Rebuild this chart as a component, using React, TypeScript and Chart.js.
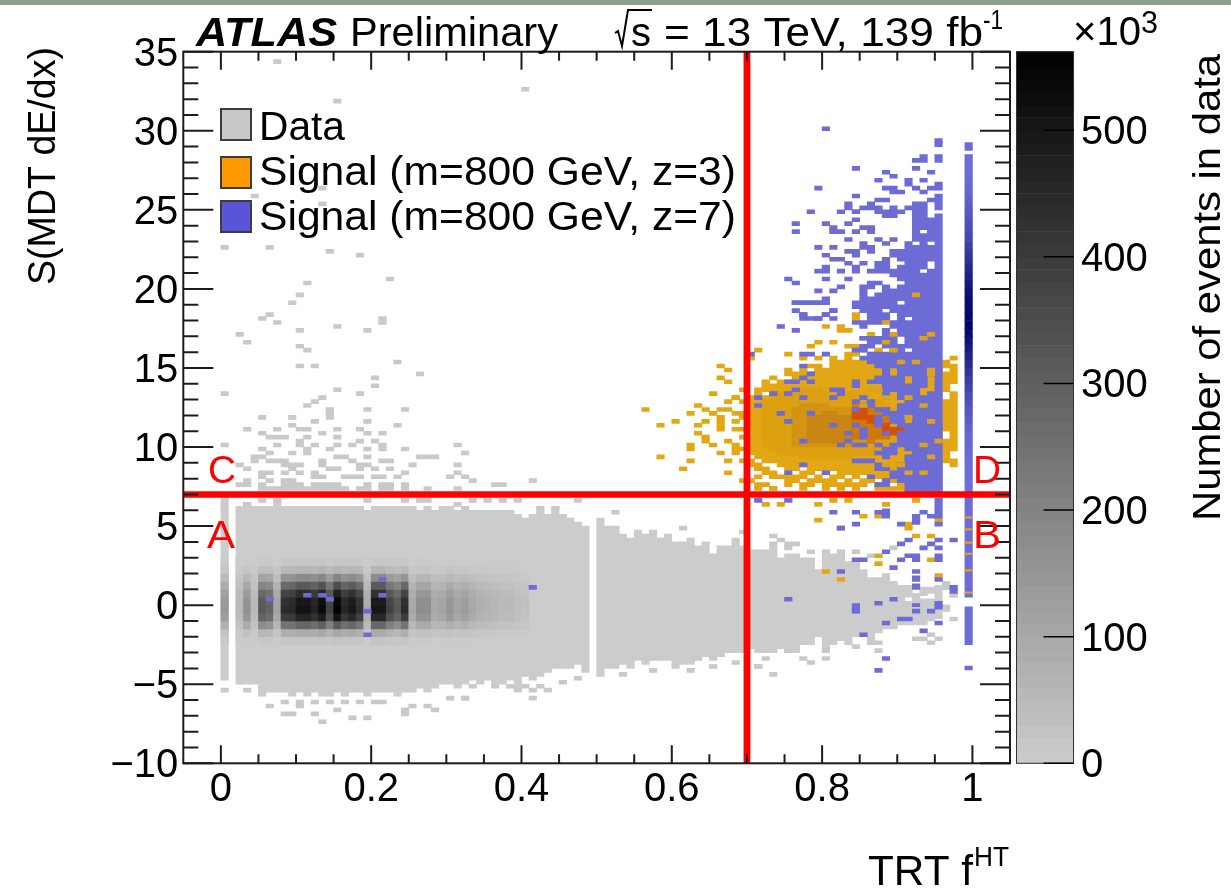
import React, { useEffect, useRef } from "react";
import { Chart, registerables } from "chart.js";
Chart.register(...registerables);

const WIDTH = 1231;
const HEIGHT = 889;
const BIN_X = 0.01;
const BIN_Y = 0.25;

const xLabelsEvery = 20; // hundredths
const legendLabels = ["Data", "Signal (m=800 GeV, z=3)", "Signal (m=800 GeV, z=7)"];
const regionLabels = ["A", "B", "C", "D"];
const colorbarEdges = [0,10,20,30,40,50,60,70,80,90,100,110,120,130,140,150,160,170,180,190,200,210,220,230,240,250,260,270,280,290,300,310,320,330,340,350,360,370,380,390,400,410,420,430,440,450,460,470,480,490,500,510,520,530,540,550,562];

// Data band: lower / upper edge of the filled region for each TRT bin 0.00 ... 0.90
const dataBandLo = [
  -4.75,null,-5,-5,-5,-5.75,-5.5,-5.5,-5.5,-5.75,
  -5.5,-5.75,-5.5,-5.75,-5.75,-5.5,-5.75,-5.5,-5.5,-5.75,
  -5.5,-5.5,-5.5,-5.75,-5.5,-5.5,-5.25,-5.5,-5.25,-5,
  -5,-5.25,-5,-4.75,-5,-4.75,-5,-5,-4.75,-5.25,
  -4.5,-4.75,-4.5,-4.25,-4,-4,-4,-3.75,-4.25,null,
  -4.5,-4,-4,-3.75,-4,-3.5,-3.75,-3.5,-3.5,-3.5,
  -3.75,-3.75,-3.75,-3.5,-3.25,-3.25,-3.25,-3,-3,-3,
  -2.75,-3,-3,-3,-2.75,-3,-3,-2.5,-2.5,-2,
  -2.75,-2.5,-2.25,-2.5,-2,-2,-2.25,-1.75,-1.5,-1.5,-1.25,
];
const dataBandHi = [
  7,null,6.25,6.5,6.25,6.25,6.25,6.5,6.25,6.25,
  6.25,6.25,6.25,6.25,6.25,6.25,6.25,6.25,6.25,6,
  6.25,6.25,6.25,6.25,6.25,6.25,6,6.25,6,6.25,
  6.25,6,6,6,6,6,6,6,6,5.75,
  5.5,5.75,6,5.75,6.25,5.75,5.5,5.25,5,null,
  5.5,5,5,4.5,4.25,4.75,4.5,4.75,4.25,4.5,
  4,4,4.25,3.75,4,3.25,3.75,3.75,4.25,3.75,
  3.5,3.5,3.5,3.75,3,3.25,3.25,3,3,2.25,
  3.25,3.25,3.25,2.75,2.75,2.25,1.75,1.75,2,1.5,1.25,
];
const dataTailSegments = [
  [.91,-1.25,.25],[.91,.5,1.25],[.92,-1.25,.75],[.93,-1.25,.4],[.93,.6,1.15],
  [.94,-1,.4],[.94,.75,1.15],[.95,-.85,1.25],[.96,-.4,0],[.96,1,1.5],[.97,.5,.75],
];

// Events (x10^3) in the dense core; one row per 0.5 of S, one column per TRT bin 0.00 ... 0.40
const coreRowStart = [-2.5,-2,-1.5,-1,-.5,0,.5,1,1.5,2,2.5];
const coreRows = [
  [6,0,2,6,2,13,12,4,18,18,20,20,19,22,15,22,18,20,17,4,20,20,15,13,18,4,7,7,4,4,6,4,5,4,3,3,2,2,2,2,1],
  [25,0,9,29,9,58,52,20,79,81,92,92,85,97,68,101,83,90,77,16,90,90,68,58,79,18,31,31,18,20,27,20,23,18,14,13,11,9,9,7,5],
  [77,0,28,88,28,176,160,61,242,248,281,281,259,297,209,308,253,275,237,50,275,275,209,176,242,55,94,94,55,61,83,61,72,55,44,39,33,28,28,22,17],
  [126,0,45,144,45,288,261,99,396,405,459,459,423,486,342,504,414,450,387,81,450,450,342,288,396,90,153,153,90,99,135,99,117,90,72,63,54,45,45,36,27],
  [140,0,50,160,50,320,290,110,440,450,510,510,470,540,380,560,460,500,430,90,500,500,380,320,440,100,170,170,100,110,150,110,130,100,80,70,60,50,50,40,30],
  [136,0,49,155,49,310,281,107,427,437,495,495,456,524,369,543,446,485,417,87,485,485,369,310,427,97,165,165,97,107,146,107,126,97,78,68,58,49,49,39,29],
  [119,0,43,136,43,272,247,94,374,383,434,434,400,459,323,476,391,425,366,77,425,425,323,272,374,85,145,145,85,94,128,94,111,85,68,60,51,43,43,34,26],
  [87,0,31,99,31,198,180,68,273,279,316,316,291,335,236,347,285,310,267,56,310,310,236,198,273,62,105,105,62,68,93,68,81,62,50,43,37,31,31,25,19],
  [49,0,18,56,18,112,102,39,154,158,179,179,165,189,133,196,161,175,151,32,175,175,133,112,154,35,60,60,35,39,53,39,46,35,28,25,21,18,18,14,11],
  [17,0,6,19,6,38,35,13,53,54,61,61,56,65,46,67,55,60,52,11,60,60,46,38,53,12,20,20,12,13,18,13,16,12,10,8,7,6,6,5,4],
  [4,0,2,5,2,10,9,3,13,14,15,15,14,16,11,17,14,15,13,3,15,15,11,10,13,3,5,5,3,3,5,3,4,3,2,2,2,2,2,1,1],
];

// Isolated data cells [TRT, S]
const dataCells = [
  [.075,34.3],[.405,32.6],[.154,31.8],[.135,26.3],[.045,25.8],[.135,25.4],[.005,22.5],[.065,22.7],[.145,22.3],[.185,22.2],
  [.115,20.3],[.225,20.6],[.105,19.5],[.095,19.2],[.064,18.45],[.055,18.2],[.075,17.9],[.215,18.1],[.215,17.9],[.155,17.65],[.195,17.4],[.105,17.3],
  [.025,17],[.035,16.6],[.105,16.3],[.115,16.05],[.105,15.1],[.125,15.1],[.235,15.4],[.265,14.6],[.205,14.3],[.205,13.8],[.155,13.5],[.185,13.4],[.005,13.4],
  [.135,13.1],[.125,12.9],[.115,12.6],[.145,12.35],[.195,12.35],[.245,12.35],[.055,11.9],[.095,11.8],[.145,11.85],[.145,12.05],[.195,11.65],[.125,11.55],[.095,11.25],[.235,11.25],
  [.035,11],[.075,11],[.105,11],[.115,11],[.155,11],[.185,11],[.195,10.9],[.215,10.9],[.055,10.75],[.065,10.6],[.075,10.6],[.085,10.6],[.135,10.75],[.155,10.6],[.115,10.5],[.105,10.35],[.185,10.45],[.205,10.35],
  [.005,10.2],[.075,10.2],[.105,10.1],[.125,10.05],[.115,9.9],[.155,10.05],[.175,10.05],[.215,10.1],[.215,9.85],[.245,9.9],[.315,10.05],[.055,9.9],[.145,9.8],[.195,9.8],[.115,9.6],[.065,9.65],[.095,9.6],[.325,9.55],[.265,9.4],[.275,9.45],[.285,9.45],
  [.045,9.4],[.055,9.4],[.025,8.85],[.035,8.6],[.045,9.1],[.065,9.1],[.075,9.1],[.085,9.1],[.095,8.9],[.105,8.85],[.135,9.2],[.135,8.95],[.155,9.4],[.165,9.4],[.175,9.1],[.185,8.85],[.195,8.85],[.195,9.3],[.215,9],[.225,9],[.205,8.6],[.225,8.6],[.255,8.75],[.315,8.85],
  [.055,8.25],[.065,8.25],[.055,8],[.085,8.25],[.095,8.7],[.085,8.75],[.105,8.45],[.125,8.45],[.145,8.5],[.155,8.5],[.185,8.6],[.185,8.2],[.245,8.4],[.315,8.3],[.325,8.1],[.305,8],
  [.035,7.75],[.025,7.5],[.035,7.5],[.055,7.65],[.065,7.95],[.085,7.75],[.095,7.75],[.125,8],[.135,8],[.165,8],[.175,8.1],[.195,7.7],[.205,8.1],[.215,8.2],[.235,8],[.245,7.6],[.275,7.4],[.315,7.3],
  [.055,7.25],[.065,7.25],[.075,7.25],[.085,7.25],[.095,7.25],[.105,7.25],[.115,7.25],[.125,7.25],[.135,7.25],[.145,7.25],[.155,7.25],[.165,7.25],[.185,7.25],[.195,7.25],[.215,7.25],[.225,7.25],[.245,7.25],
  [.085,7.6],[.095,7.6],[.105,7.6],[.125,7.6],[.135,7.6],[.145,7.6],[.155,7.6],[.215,7.6],[.225,7.6],
  [.035,6.4],[.055,6.6],[.075,6.6],[.195,6.6],[.245,6.6],[.265,6.65],[.275,6.55],[.315,6.4],[.325,6.2],
  [.005,-5.33],[.035,-5.5],[.065,-6.4],[.085,-6.9],[.095,-6.9],[.105,-6.35],[.125,-6.9],[.135,-7.5],[.155,-6.6],[.175,-7.25],[.195,-7.1],[.245,-7],[.245,-6.55],[.255,-6.35],[.275,-6.4],[.285,-6.65],[.305,-5.9],[.325,-5.8],
  [.085,-6.2],[.105,-6.1],[.125,-6.2],[.145,-6.1],[.165,-6.2],[.185,-6.2],[.205,-6.1],[.215,-6.2],
  [.324,-5.8],[.334,-5.1],[.364,-5.1],[.384,-5.1],[.394,-5.4],[.404,-5.15],[.414,-5.8],[.414,-5.3],[.424,-5.1],[.434,-5.4],[.454,-5],[.479,-4.6],[.535,-4.4],[.575,-4.05],[.606,-4],[.626,-4.05],[.635,-3.4],[.655,-3.8],[.655,-3.35],[.685,-3.65],[.715,-3.8],
  [.334,6.7],[.355,6.6],[.375,6.5],[.394,6.6],[.475,6.5],[.424,6.05],[.445,6.2],[.525,5.8],[.615,4.85],[.694,4.6],[.414,7.8],[.379,7.65],[.369,7.65],[.334,7.9],
  [.735,4.45],[.745,4.05],[.735,3.8],[.755,3.75],[.765,3.75],[.755,3.5],[.785,3.4],[.805,3.4],[.825,3.4],[.845,3.4],[.865,3],[.895,3.7],
  [.965,1.25],[.965,1],[.975,.6],[.965,-.25],[.97,-1],[.955,-2.2],[.945,-1.9],[.945,-2.4],[.925,-2.1],[.935,-2.25],[.875,-2.5],[.875,-2.8],[.865,-2.4],[.845,-2.6],[.805,-3.4],[.785,-3.65],[.755,-3],[.735,-4.3],[.715,-3.8],[.725,-3.4],[.775,-3.3],[.805,-2.85],
];

// Signal z=3: solid stretches per TRT bin [bin, lo, hi]
const orangeSegments = [
  [.70,9.5,13.25],[.70,8.75,9.25],[.70,7.75,8],
  [.71,9.25,13],[.71,13.25,13.75],[.71,8.5,9],[.71,7.25,7.75],
  [.72,9,13.25],[.72,13.5,14.25],[.72,8.25,8.75],
  [.73,9,14],[.73,14.25,14.5],[.73,8,8.5],[.73,7.25,7.5],
  [.74,8.75,14.25],[.74,8,8.25],
  [.75,8.5,14.25],[.75,14.5,15],[.75,7.5,8.25],
  [.76,8.5,14.75],[.76,7.75,8.25],
  [.77,8.75,14.25],[.77,14.5,15],[.77,8,8.5],[.77,7.25,7.75],
  [.78,8.25,14.75],[.78,15,15.25],[.78,7.5,8],
  [.79,8.5,15.25],[.79,15.5,15.75],[.79,7.75,8.25],
  [.80,8.25,15],[.80,7.25,8],
  [.81,8.5,15.75],[.81,7.5,8.25],
  [.82,8,15.5],[.82,7.25,7.75],
  [.83,8.25,16],[.83,16.25,16.5],[.83,7.5,8],
  [.84,8,15.5],[.84,15.75,16.5],[.84,7.25,7.75],
  [.85,8.25,15.5],[.85,16,16.5],[.85,7.5,8],
  [.86,7.75,15.25],[.86,15.5,16],[.87,8,15],[.87,15.75,16.25],[.87,7.25,7.75],
  [.88,7.25,15.5],[.89,7.75,15],[.89,7.25,7.5],
  [.90,7.25,15],[.91,7.25,14.75],[.92,7.5,15],[.93,7.25,15],[.94,7.25,15],[.95,7.25,15],
  [.96,9,10.5],[.96,11,13],[.96,13.5,14.75],[.96,15,15.5],[.97,8.75,9.25],[.97,9.75,13.5],[.97,14,15.25],[.97,15.5,15.75],
];
const orangeCells = [
  [.715,16],[.705,15.7],[.755,15.8],[.775,15.7],[.785,16.35],[.795,16.5],[.805,17.5],[.815,16.65],[.825,17.7],[.825,17.3],[.835,17.4],[.845,18.3],[.845,18],[.855,16.9],[.865,17],[.885,16.7],[.895,16.1],
  [.565,12.45],[.605,11.65],[.585,11.25],[.625,12.2],[.635,12.6],[.645,12.45],[.655,13.3],[.665,15],[.675,14.85],[.665,14.45],[.675,14.05],[.655,12.2],[.665,12.35],[.675,12.45],[.675,12.85],[.685,13.2],[.695,13.5],[.685,13],[.695,12.75],
  [.665,11.9],[.665,11.6],[.665,11.3],[.665,11.05],[.645,11.5],[.635,11.4],[.635,10.9],[.645,10.65],[.645,10.35],[.655,10.1],[.625,10.2],[.625,9.95],[.585,9.4],[.625,9.15],[.615,8.6],[.665,9.65],[.675,10.4],[.675,9.15],[.675,8.35],
  [.685,10.1],[.685,9.85],[.685,9.6],[.685,11.1],[.685,11.5],[.685,12],[.695,12.2],[.695,11.75],[.695,11],[.695,10.5],[.695,9.9],[.695,9.2],[.695,7.75],
  [.715,8.5],[.715,8],[.735,8.2],[.725,7.5],[.735,7.25],
  [.725,6.4],[.745,6.4],[.795,6.4],[.815,6.5],[.835,6.5],[.885,6.3],[.925,6.5],[.795,5.4],[.855,5.55],[.875,5.55],[.825,4.85],[.925,4.4],[.945,4.3],[.915,5],[.915,4.75],[.875,3.1],[.875,2.6],[.945,2.75],[.805,2.2],[.825,1.65],[.955,1.8],[.955,5.4],
];
// Darker stretches of the z=3 signal [bin, lo, hi, shade index]
const orangeShades = ["#dca010", "#d29412", "#c98612", "#cf7a08", "#d4500a"];
const orangeDark = [
  [.72,10,13,0],[.73,9.75,13.25,0],[.74,9.5,13.5,0],[.75,9.5,13.5,0],[.76,9.5,13.5,0],[.77,9.25,13.75,0],[.78,9.25,13.75,0],[.79,9.25,13.75,0],[.80,9.25,13.5,0],[.81,9.25,13.5,0],[.82,9.25,13.5,0],[.83,9.25,13.5,0],[.84,9.5,13.5,0],[.85,9.5,13.25,0],[.86,9.5,13,0],[.87,9.5,13,0],[.88,9.75,12.75,0],[.89,9.75,12.5,0],
  [.76,10,12.5,1],[.77,10,12.75,1],[.78,10,12.75,1],[.79,10,12.75,1],[.80,10,12.75,1],[.81,10,12.5,1],[.82,10,12.5,1],[.83,10,12.5,1],[.84,10,12.5,1],[.85,10,12.5,1],
  [.78,10.25,12,2],[.79,10.25,12,2],[.80,10.25,12.25,2],[.81,10.25,12.25,2],[.82,10.25,12,2],[.83,10.5,12,2],
  [.84,10.5,12.75,3],[.85,10.5,12.75,3],[.86,10.25,12.5,3],[.87,10.5,12.25,3],[.88,10.5,12.5,3],
  [.845,11.75,12.5,4],[.855,11.75,12.5,4],[.865,11.5,12,4],[.88,10.75,11.5,4],[.89,10.75,11.25,4],[.925,10.75,11,4],[.905,11,11.25,4],[.915,11,11.25,4],
];

// Signal z=7 [bin, lo, hi]
const blueSegments = [
  [.95,7,24.75],[.95,25,26],[.95,26.25,26.75],[.95,28,28.5],[.95,29,29.25],[.95,29.25,29.5],
  [.94,7,13.5],[.94,14.5,21.25],[.94,21.75,22.75],[.94,23,24.5],[.94,25.5,25.75],[.94,26.25,26.5],[.94,27.25,27.5],
  [.93,7,13.25],[.93,13.75,21],[.93,21.25,23.5],[.93,23.75,25.5],[.93,26,26.25],[.93,26.75,27],[.93,28,28.5],
  [.92,7,22.75],[.92,23,25.5],[.92,26.25,26.5],[.92,27.5,27.75],[.92,28,28.25],
  [.91,7,9.5],[.91,9.75,11.5],[.91,12,14],[.91,14.5,16],[.91,16.25,18],[.91,18.25,23],[.91,25,25.25],[.91,26.5,27],
  [.90,7.75,9],[.90,10,11],[.90,11.25,12.75],[.90,13.25,16.5],[.90,17,19],[.90,19.25,20.25],[.90,20.5,21.5],[.90,21.75,22.5],[.90,24.75,25],[.90,26,26.25],
  [.89,8,8.5],[.89,9.5,10.25],[.89,11.5,12.25],[.89,13.5,14.5],[.89,15,17],[.89,17.5,18],[.89,18.5,20],[.89,20.75,21.25],[.89,22,22.5],[.89,23,23.25],[.89,24.5,25.25],[.89,26,26.5],[.89,27,27.25],
  [.88,7.5,8],[.88,9.25,9.5],[.88,10.75,11],[.88,12,12.5],[.88,13.25,16],[.88,16.25,17.5],[.88,18,18.5],[.88,18.75,20.25],[.88,21,22],[.88,22.75,23],[.88,24.5,25],[.88,25.5,25.75],[.88,26.25,26.5],[.88,27.25,27.5],
  [.87,8.5,9],[.87,10,10.25],[.87,11.25,11.5],[.87,14,14.5],[.87,15,16],[.87,16.5,17],[.87,17.75,18.5],[.87,18.5,19.75],[.87,20.25,20.5],[.87,21,21.75],[.87,23,23.25],[.87,24.75,25.25],[.87,25.5,25.75],[.87,26.75,27],
  [.86,9,9.25],[.86,12.5,13],[.86,15.25,16],[.86,16.25,17],[.86,17.75,18.75],[.86,18.75,19.5],[.86,20,20.5],[.86,21,21.25],[.86,22.25,22.75],[.86,23.5,24],[.86,25,25.5],
  [.85,10.5,10.75],[.85,13,13.25],[.85,15.5,15.75],[.85,16,16.5],[.85,16.75,17],[.85,17.5,18],[.85,18.5,20],[.85,20,20.25],[.85,21.5,21.75],[.85,22.5,23],[.85,23.75,24],[.85,25,25.25],
  [.84,12.25,12.5],[.84,16,16.25],[.84,17.75,18],[.84,18.75,19.25],[.84,21,21.5],[.84,22,22.25],[.84,23.5,23.75],[.84,24.75,25],[.84,25.75,26],[.84,27.5,27.75],
  [.92,-.1,.1],[.92,1,1.35],[.92,1.65,1.85],[.92,5.1,5.75],[.95,5.5,6.75],[.88,5.5,6.1],[.84,-.25,.1],
];
const blueCells = [
  [.803,30],[.795,26.4],[.785,24.95],[.765,24],[.765,23.5],[.805,24],[.815,23.9],[.815,23.5],[.825,23.5],[.795,22.7],[.815,22.7],[.805,22.15],[.835,23.2],[.825,24.8],[.835,25.2],[.835,25.45],[.845,24.95],[.845,24.4],[.835,24.2],
  [.845,22.3],[.835,22.3],[.825,21.9],[.815,21.8],[.805,21.35],[.805,21],[.795,21],[.805,20.55],[.755,20.55],[.765,20.3],[.835,21.5],[.825,21],[.835,20.5],[.825,20.2],[.815,19.8],[.795,19.8],[.805,19.3],[.795,19.2],[.785,19],[.775,19.15],[.765,19],[.765,18.7],[.815,18.7],[.805,18.4],[.775,18.3],[.795,18.2],[.815,18],
  [.745,17.5],[.765,17.35],[.775,18.25],[.775,18],[.765,19],[.775,19.1],[.785,19],[.795,19.2],[.805,19.2],[.815,18.7],[.805,18.45],[.785,18.1],[.795,18.1],
  [.705,15.9],[.775,15.9],[.785,15.9],[.805,15.9],[.775,15.1],[.785,14.7],[.755,14.2],[.775,14.3],[.785,14.2],[.765,14],[.765,13.5],[.735,13.35],[.755,13.25],[.775,13.1],[.715,13.1],[.715,12.7],[.815,13.1],[.825,13.25],[.825,13.65],[.815,13.6],[.845,14],[.845,13.75],[.865,14],
  [.745,12.2],[.785,12.05],[.755,11.65],[.815,11.4],[.845,11.4],[.775,10.35],[.825,10.2],[.835,10.35],[.835,10.75],[.845,10.2],[.855,10.8],[.855,10.2],[.855,11.2],[.875,11.6],[.875,11.95],[.875,9.65],[.845,9],[.855,9.15],[.885,9.9],[.885,9.5],[.775,8.9],[.755,8.45],[.805,8.45],[.865,8],[.875,7.6],[.885,8.55],
  [.845,12.9],[.855,12.55],[.865,12.6],[.875,12.3],[.885,12.2],[.895,12.1],[.905,13],[.715,6.7],[.755,6.6],[.815,5.9],[.845,5.8],[.875,5.8],[.825,4.85],[.845,5],[.905,5],[.905,3.9],[.915,4],[.925,5.4],[.935,5.9],[.945,5.7],[.955,5],[.955,4.2],[.975,4.2],[.935,3.7],[.945,3.8],[.955,3.7],[.885,3.4],[.955,3.2],[.955,2.9],[.925,3],[.905,2.9],[.915,3.1],[.925,2.75],[.845,2.85],[.855,2.75],[.895,2.45],[.925,2.2],[.825,2.2],[.955,1.65],[.925,1.7],[.975,1.1],[.975,.8],[.895,.35],[.875,.05],[.845,-.35],[.755,.35],[.925,-.45],[.945,-.45],[.955,0],[.955,-.2],[.955,-1.15],[.9,-1],[.915,-1],[.935,-1.55],[.885,-1.25],[.855,-1.8],[.885,-3.3],[.875,-4.2],
  [.115,.55],[.065,.45],[.135,.6],[.145,.3],[.195,-.3],[.195,-1.9],[.215,1.5],[.215,.55],[.415,1],
];
// Orange pieces that sit over the z=7 columns
const orangeOverBlue = [
  [.945,14.8],[.945,14.55],[.945,17],[.905,15.4],[.895,16.1],[.885,16.7],[.895,17.1],[.885,13.1],[.915,13.1],[.915,11.9],[.935,12.5],[.875,13.5],[.865,13.5],[.855,12.5],[.945,11.5],[.935,10],[.955,10.3],[.945,9.4],[.935,8.3],[.915,8.3],[.905,8.75],[.885,8.9],[.925,15.4],[.935,16.9],[.925,19.5],[.885,17.9],
];

// Column at TRT 0.99: darkness of z=7 signal per 0.5 of S, from S = 7 upward
const blueEdgeLevels = [.03,.03,.04,.05,.05,.08,.1,.12,.15,.2,.25,.3,.35,.42,.5,.58,.65,.72,.8,.88,.95,1,1,.97,.95,.9,.85,.78,.7,.62,.55,.48,.4,.35,.3,.25,.2,.15,.1,.08,.05,.05,.05];
const blueEdgeSegments = [[.99,.5,7],[.99,-2.5,-.1],[.99,28.75,29],[.99,29,29.25],[.99,-4.1,-3.85]];
const orangeEdgeCells = [[.995,5.5],[.995,4.75],[.995,3.9],[.995,3.2],[.995,2.15],[.995,.75]];

const cut = [.7, 7];

const GRAY_CELL = "#c9c9cc";
const BAND = "#cccccc";
const ORANGE = "#e3a714";
const BLUE = "#6c6cd4";
const RED = "#ff0000";
const AXIS = "#1c1c1c";

const palette = (v: number) => {
  const g = Math.round(204 * (1 - v / 562));
  return `rgb(${g},${g},${g})`;
};
const blueTone = (t: number) => {
  const r = Math.round(114 - 109 * t);
  const g = Math.round(114 - 109 * t);
  const b = Math.round(220 - 114 * t);
  return `rgb(${r},${g},${b})`;
};
const seg = (x: number, lo: number, hi: number) => ({ x: x + BIN_X / 2, y: [lo, hi] });
const cell = (x: number, y: number) => {
  const bx = Math.floor(x * 100 + 1e-6) / 100;
  const by = Math.floor(y / BIN_Y) * BIN_Y;
  return seg(bx, by, by + BIN_Y);
};

function buildDatasets() {
  const gray: any[] = [], grayColors: string[] = [];
  dataBandLo.forEach((lo, i) => {
    const hi = dataBandHi[i];
    if (lo === null || hi === null) return;
    gray.push(seg(i / 100, lo, hi)); grayColors.push(BAND);
  });
  dataTailSegments.forEach(([x, lo, hi]) => { gray.push(seg(x, lo, hi)); grayColors.push(BAND); });
  dataCells.forEach(([x, y]) => { gray.push(cell(x, y)); grayColors.push(GRAY_CELL); });
  coreRows.forEach((row, r) => row.forEach((v, c) => {
    if (!v) return;
    gray.push(seg(c / 100, coreRowStart[r], coreRowStart[r] + 0.5)); grayColors.push(palette(v));
  }));

  const orange: any[] = [], orangeColors: string[] = [];
  orangeSegments.forEach(([x, lo, hi]) => { orange.push(seg(x, lo, hi)); orangeColors.push(ORANGE); });
  orangeCells.forEach(([x, y]) => { orange.push(cell(x, y)); orangeColors.push(ORANGE); });
  orangeDark.forEach(([x, lo, hi, s]) => { orange.push(seg(Math.floor(x * 100 + 1e-6) / 100, lo, hi)); orangeColors.push(orangeShades[s]); });

  const blue: any[] = [], blueColors: string[] = [];
  blueSegments.forEach(([x, lo, hi]) => { blue.push(seg(x, lo, hi)); blueColors.push(BLUE); });
  blueCells.forEach(([x, y]) => { blue.push(cell(x, y)); blueColors.push(BLUE); });
  blueEdgeSegments.forEach(([x, lo, hi]) => { blue.push(seg(x, lo, hi)); blueColors.push(BLUE); });
  blueEdgeLevels.forEach((t, i) => { blue.push(seg(.99, 7 + i * .5, 7 + (i + 1) * .5)); blueColors.push(blueTone(t)); });

  const topOrange: any[] = [];
  orangeOverBlue.forEach(([x, y]) => topOrange.push(cell(x, y)));
  orangeEdgeCells.forEach(([x, y]) => topOrange.push({ x: .995, y: [y, y + .1] }));

  const bar: any[] = [], barColors: string[] = [];
  colorbarEdges.slice(0, -1).forEach((lo, i) => {
    bar.push({ x: 1.0966, y: [lo, colorbarEdges[i + 1]] });
    barColors.push(palette((lo + colorbarEdges[i + 1]) / 2));
  });

  const common = { barThickness: 7.51, grouped: false, borderWidth: 0 };
  return [
    { type: "line", label: "cut S", data: [{ x: -0.05, y: cut[1] }, { x: 1.05, y: cut[1] }], borderColor: RED, borderWidth: 6.5, pointRadius: 0, fill: false, order: 0 },
    { type: "line", label: "cut TRT", data: [{ x: cut[0], y: -10 }, { x: cut[0], y: 35 }], borderColor: RED, borderWidth: 6.8, pointRadius: 0, fill: false, order: 0 },
    { type: "bar", label: "Signal (m=800 GeV, z=3) over", data: topOrange, backgroundColor: "#dba21c", order: 1, ...common },
    { type: "bar", label: legendLabels[2], data: blue, backgroundColor: blueColors, order: 2, ...common },
    { type: "bar", label: legendLabels[1], data: orange, backgroundColor: orangeColors, order: 3, ...common },
    { type: "bar", label: legendLabels[0], data: gray, backgroundColor: grayColors, order: 4, ...common },
    { type: "bar", label: "Number of events in data", data: bar, backgroundColor: barColors, yAxisID: "y1", clip: false, order: 5, barThickness: 57, grouped: false, borderWidth: 0 },
  ];
}

const fitText = (ctx: any, text: string, x: number, y: number, font: string, width: number, color = "#000", rotate = 0) => {
  ctx.save();
  ctx.font = font;
  ctx.fillStyle = color;
  ctx.textAlign = "left";
  ctx.textBaseline = "alphabetic";
  ctx.translate(x, y);
  if (rotate) ctx.rotate(rotate);
  const w = ctx.measureText(text).width;
  ctx.scale(width / w, 1);
  ctx.fillText(text, 0, 0);
  ctx.restore();
};

const F = "'Liberation Sans', Arial, sans-serif";

const backdrop = {
  id: "backdrop",
  beforeDraw(chart: any) {
    const { ctx, scales, chartArea } = chart;
    ctx.save();
    ctx.fillStyle = "#ffffff";
    ctx.fillRect(0, 0, WIDTH, HEIGHT);
    ctx.fillStyle = "#8ca08f";
    ctx.fillRect(0, 0, WIDTH, 5);
    ctx.restore();
    // The tick numbers of the vertical axes sit about 3px below their tick in the reference
    if (!chart.$labelsNudged) {
      chart.$labelsNudged = true;
      [scales.y, scales.y1].forEach((s: any) => {
        s.getLabelItems(chartArea).forEach((it: any) => { it.options.translation[1] += 3; });
      });
    }
  },
};

const frameAndText = {
  id: "frameAndText",
  afterDraw(chart: any) {
    const { ctx, chartArea: a, scales } = chart;
    ctx.save();
    ctx.strokeStyle = AXIS;
    ctx.lineWidth = 2;
    ctx.strokeRect(a.left, a.top, a.right - a.left, a.bottom - a.top);
    ctx.beginPath();
    scales.x.ticks.forEach((t: any) => {
      const h = Math.round(t.value * 100);
      if (h < 0 || h > 105) return;
      const len = h % xLabelsEvery === 0 ? 18 : 9;
      const px = scales.x.getPixelForValue(t.value);
      ctx.moveTo(px, a.bottom); ctx.lineTo(px, a.bottom - len);
      ctx.moveTo(px, a.top); ctx.lineTo(px, a.top + len);
    });
    scales.y.ticks.forEach((t: any) => {
      const len = Math.round(t.value) % 5 === 0 ? 30 : 15;
      const py = scales.y.getPixelForValue(t.value);
      ctx.moveTo(a.left, py); ctx.lineTo(a.left + len, py);
      ctx.moveTo(a.right, py); ctx.lineTo(a.right - len, py);
    });
    ctx.stroke();

    const barLeft = scales.x.getPixelForValue(1.0966) - 28.5;
    ctx.lineWidth = 1;
    ctx.strokeStyle = "#333";
    ctx.strokeRect(barLeft, a.top, 57, a.bottom - a.top);
    ctx.lineWidth = 1.5;
    ctx.strokeStyle = "#000";
    ctx.beginPath();
    scales.y1.ticks.forEach((t: any) => {
      const py = scales.y1.getPixelForValue(t.value);
      ctx.moveTo(barLeft + 57, py); ctx.lineTo(barLeft + 27, py);
    });
    ctx.stroke();

    // Legend
    const swatches = [
      { fill: "#c8c8c8", top: 109, base: 140, w: 86 },
      { fill: "#ff9900", top: 157, base: 185, w: 477 },
      { fill: "#5a55d8", top: 201, base: 230, w: 477 },
    ];
    swatches.forEach((s, i) => {
      ctx.fillStyle = s.fill;
      ctx.fillRect(221, s.top, 30, 31);
      ctx.strokeStyle = "#3c3c3c";
      ctx.lineWidth = 2;
      ctx.strokeRect(221, s.top, 30, 31);
      fitText(ctx, legendLabels[i], 259, s.base, `40px ${F}`, s.w);
    });

    // Header
    fitText(ctx, "ATLAS", 196, 46, `italic bold 41px ${F}`, 141);
    fitText(ctx, "Preliminary", 350, 46, `41px ${F}`, 208);
    ctx.strokeStyle = "#000";
    ctx.lineWidth = 2;
    ctx.beginPath();
    ctx.moveTo(615, 33); ctx.lineTo(618, 31); ctx.lineTo(622, 46); ctx.lineTo(628, 10); ctx.lineTo(652, 10);
    ctx.stroke();
    fitText(ctx, "s", 631, 46, `40px ${F}`, 20);
    fitText(ctx, "= 13 TeV, 139 fb", 664, 46, `40px ${F}`, 319);
    fitText(ctx, "-1", 983, 29, `27px ${F}`, 20);
    fitText(ctx, "×10", 1073, 45, `40px ${F}`, 68);
    fitText(ctx, "3", 1141, 33, `32px ${F}`, 17);

    // Region letters
    const letterPos = [[207, 548], [973, 548], [208, 483], [973, 483]];
    regionLabels.forEach((l, i) => fitText(ctx, l, letterPos[i][0], letterPos[i][1], `38px ${F}`, 28, RED));

    // Titles
    fitText(ctx, "S(MDT dE/dx)", 55, 285, `39px ${F}`, 238, "#000", -Math.PI / 2);
    fitText(ctx, "Number of events in data", 1220, 521, `38px ${F}`, 467, "#000", -Math.PI / 2);
    fitText(ctx, "TRT f", 868, 885, `42px ${F}`, 105);
    fitText(ctx, "HT", 974, 866, `28px ${F}`, 35);
    ctx.restore();
  },
};

const noPad = (s: any) => { s.paddingTop = 0; s.paddingBottom = 0; };

export default function App() {
  const ref = useRef<HTMLCanvasElement | null>(null);
  useEffect(() => {
    document.body.style.margin = "0";
    const chart = new Chart(ref.current as any, {
      type: "bar",
      data: { datasets: buildDatasets() as any },
      plugins: [backdrop, frameAndText],
      options: {
        animation: false,
        responsive: false,
        layout: { padding: { top: 51.7, left: 0, right: 0, bottom: 0 } },
        plugins: { legend: { display: false }, title: { display: false }, tooltip: { enabled: false } },
        scales: {
          x: {
            type: "linear", min: -0.05, max: 1.05, offset: false,
            grid: { display: false, drawTicks: false, offset: false }, border: { display: false },
            ticks: {
              stepSize: 0.05, autoSkip: false, maxRotation: 0, minRotation: 0, padding: 3, color: "#000",
              font: { family: F, size: 40 },
              callback: (v: any) => {
                const h = Math.round(v * 100);
                return h % xLabelsEvery === 0 && h >= 0 && h <= 100 ? String(h / 100) : "";
              },
            },
            afterFit: (s: any) => { s.height = 125.7; },
          },
          y: {
            type: "linear", min: -10, max: 35, position: "left",
            grid: { display: false, drawTicks: false }, border: { display: false },
            ticks: {
              stepSize: 1, autoSkip: false, padding: 5, color: "#000",
              font: { family: F, size: 40 },
              callback: (v: any) => (Math.round(v) % 5 === 0 ? String(v).replace("-", "\u2212") : ""),
            },
            afterFit: (s: any) => { s.width = 183.3; noPad(s); },
          },
          y1: {
            type: "linear", min: 0, max: 562, position: "right",
            grid: { display: false, drawTicks: false }, border: { display: false },
            ticks: { stepSize: 100, includeBounds: false, padding: 71, color: "#000", font: { family: F, size: 40 } },
            afterFit: (s: any) => { s.width = 221; noPad(s); },
          },
        },
      } as any,
    });
    return () => chart.destroy();
  }, []);
  return <canvas ref={ref} width={WIDTH} height={HEIGHT} style={{ display: "block", filter: "blur(0.6px)" }} />;
}
